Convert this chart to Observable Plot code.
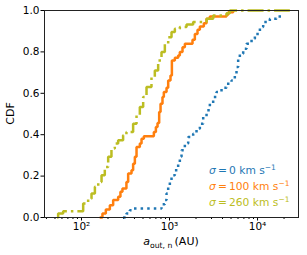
<!DOCTYPE html>
<html>
<head>
<meta charset="utf-8">
<script src="https://cdn.jsdelivr.net/npm/d3@7"></script>
<script src="https://cdn.jsdelivr.net/npm/@observablehq/plot@0.6"></script>
<style>
  html, body { margin: 0; padding: 0; background: white; }
</style>
</head>
<body>
<div id="chart"></div>
<script>
// sigma = 0 km/s (blue, dotted)
const blueX = [297, 324, 354, 386, 776, 811, 885, 925, 966, 1009, 1054, 1150, 1254, 1310, 1369, 1494, 1630, 1857, 2027, 2212, 2414, 2634, 2874, 3133, 3420, 3898, 4443, 5067, 5521, 5768, 6026, 6295, 6871, 7499, 8550, 9330, 10640, 11590, 13800, 16440, 18740];
const blueY = [0.0, 0.019, 0.035, 0.043, 0.043, 0.064, 0.084, 0.116, 0.148, 0.172, 0.204, 0.228, 0.26, 0.293, 0.325, 0.357, 0.389, 0.405, 0.429, 0.453, 0.486, 0.518, 0.55, 0.582, 0.606, 0.627, 0.646, 0.662, 0.686, 0.727, 0.767, 0.791, 0.815, 0.839, 0.863, 0.887, 0.92, 0.944, 0.96, 0.971, 0.976];

// sigma = 100 km/s (orange, solid)
const orangeX = [161, 173, 189, 210, 229, 261, 277, 292, 324, 339, 370, 386, 404, 422, 460, 481, 511, 664, 700, 731, 763, 791, 832, 862, 925, 966, 1026, 1064, 1150, 1254, 1310, 1405, 1494, 1825, 1940, 2080, 2212, 2455, 2634, 2874, 4443, 4645, 5290];
const orangeY = [0.0, 0.019, 0.039, 0.059, 0.084, 0.10, 0.124, 0.14, 0.172, 0.212, 0.228, 0.26, 0.293, 0.341, 0.357, 0.381, 0.392, 0.413, 0.437, 0.457, 0.51, 0.55, 0.582, 0.606, 0.627, 0.662, 0.686, 0.759, 0.772, 0.783, 0.799, 0.823, 0.839, 0.859, 0.887, 0.907, 0.923, 0.939, 0.96, 0.971, 0.98, 0.992, 1.0];

// sigma = 260 km/s (olive, dash-dot)
const oliveX = [52.8, 54.3, 61.9, 91.6, 104.5, 119, 130, 142, 155, 169, 184, 201, 219, 239, 261, 297, 324, 386, 422, 460, 502, 548, 624, 681, 743, 811, 885, 966, 1054, 1150, 1310, 1561, 1857, 2634, 3133, 4443, 4849, 23300];
const oliveY = [0.0, 0.019, 0.03, 0.03, 0.068, 0.09, 0.116, 0.148, 0.172, 0.204, 0.244, 0.293, 0.333, 0.357, 0.373, 0.397, 0.413, 0.453, 0.494, 0.534, 0.582, 0.63, 0.678, 0.71, 0.759, 0.8, 0.839, 0.871, 0.896, 0.912, 0.92, 0.932, 0.944, 0.96, 0.976, 0.987, 1.0, 1.0];

const seriesColors = ["#1f77b4", "#ff7f0e", "#bcbd22"];
const legendValues = ["0", "100", "260"];

const yTicks = [0, 0.2, 0.4, 0.6, 0.8, 1.0];
const xMajorTicks = [100, 1000, 10000];
const xMajorLabels = ["10²", "10³", "10⁴"];
const xMinorTicks = [40, 50, 60, 70, 80, 90, 200, 300, 400, 500, 600, 700, 800, 900, 2000, 3000, 4000, 5000, 6000, 7000, 8000, 9000, 20000];

const toRows = (xs, ys) => xs.map((x, i) => ({x, y: ys[i]}));
const blue = toRows(blueX, blueY);
const orange = toRows(orangeX, orangeY);
const olive = toRows(oliveX, oliveY);

const W = 307, H = 255;
const mL = 44, mR = 9, mT = 10, mB = 38;

const svg = Plot.plot({
  width: W, height: H,
  marginLeft: mL, marginRight: mR, marginTop: mT, marginBottom: mB,
  style: {fontFamily: "DejaVu Sans", fontSize: "10.5px", color: "black", background: "white"},
  x: {type: "log", domain: [38, 29200]},
  y: {domain: [0, 1]},
  marks: [
    Plot.axisY({ticks: yTicks, tickFormat: d3.format(".1f"), tickSize: 3.5, tickPadding: 1.5, label: null, fontSize: 10.5}),
    Plot.axisX({ticks: xMajorTicks, tickFormat: (d) => xMajorLabels[xMajorTicks.indexOf(d)], tickSize: 3.5, tickPadding: 2, label: null, fontSize: 10.5}),
    Plot.axisX({ticks: xMinorTicks, tickFormat: () => "", tickSize: 2, label: null}),
    Plot.line(blue, {x: "x", y: "y", curve: "step-after", stroke: seriesColors[0], strokeWidth: 2.5, strokeDasharray: "2.5,4.1", strokeLinecap: "butt", strokeLinejoin: "miter"}),
    Plot.line(orange, {x: "x", y: "y", curve: "step-after", stroke: seriesColors[1], strokeWidth: 2.5, strokeLinecap: "butt", strokeLinejoin: "miter"}),
    Plot.line(olive, {x: "x", y: "y", curve: "step-after", stroke: seriesColors[2], strokeWidth: 2.5, strokeDasharray: "16,4,2.5,4", strokeLinecap: "butt", strokeLinejoin: "miter"}),
    Plot.frame({stroke: "#222", strokeWidth: 1})
  ]
});

const s = d3.select(svg);
const plotCx = mL + (W - mL - mR) / 2;
const plotCy = mT + (H - mT - mB) / 2;

// y label
s.append("text")
  .attr("transform", `translate(14,${plotCy}) rotate(-90)`)
  .attr("text-anchor", "middle")
  .attr("font-family", "DejaVu Sans").attr("font-size", 11)
  .attr("fill", "black")
  .text("CDF");

// x label
const xl = s.append("text")
  .attr("x", plotCx).attr("y", 245)
  .attr("text-anchor", "middle")
  .attr("font-family", "DejaVu Sans").attr("font-size", 11)
  .attr("fill", "black");
xl.append("tspan").attr("font-style", "italic").text("a");
xl.append("tspan").attr("font-size", 7.7).attr("dy", 2.5).text("out, n");
xl.append("tspan").attr("dy", -2.5).text("\u2009(AU)");

// legend
const lg = s.append("g").attr("font-family", "DejaVu Sans").attr("font-size", 10.7).attr("text-anchor", "start");
legendValues.forEach((v, i) => {
  const t = lg.append("text")
    .attr("x", 209).attr("y", 174 + i * 15.8)
    .attr("text-anchor", "start")
    .attr("fill", seriesColors[i]);
  t.append("tspan").attr("font-style", "italic").text("σ");
  t.append("tspan").text("\u2009=\u2009" + v + " km s");
  t.append("tspan").attr("font-size", 7.5).attr("dy", -4).text("−1");
});

document.getElementById("chart").appendChild(svg);
</script>
</body>
</html>
